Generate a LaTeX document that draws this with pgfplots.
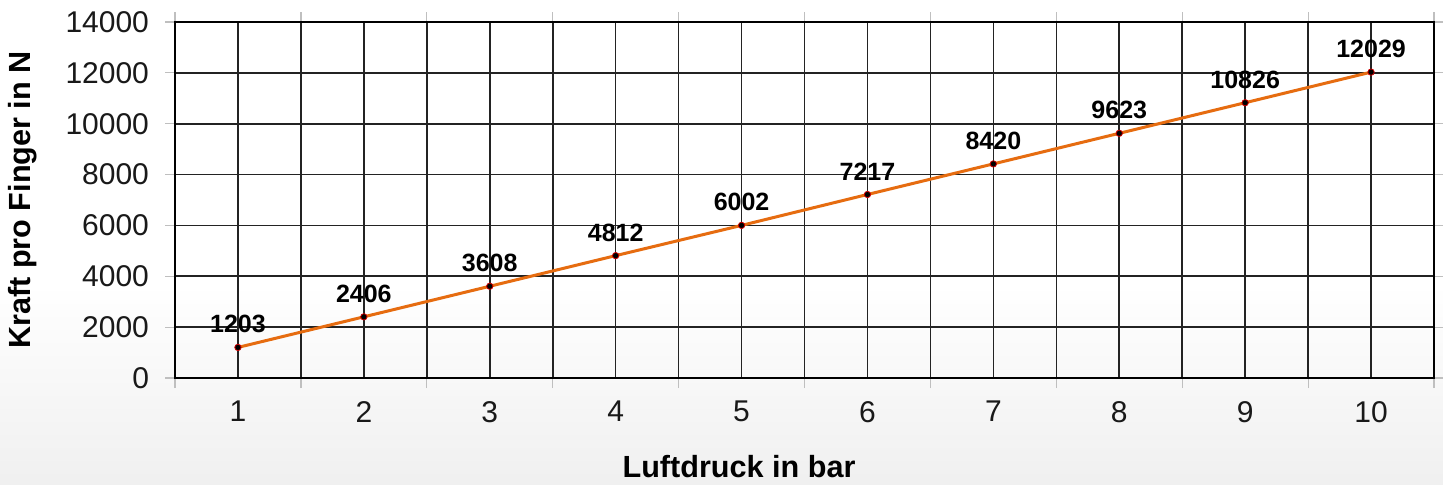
\documentclass[border=0pt]{standalone}
\usepackage{pgfplots}
\pgfplotsset{compat=1.18}
\usepackage{fontspec}
\setmainfont{Liberation Sans}
\definecolor{lineorange}{RGB}{230,108,16}
\definecolor{gridgray}{RGB}{35,35,35}
\begin{document}
\begin{tikzpicture}
\shade[bottom color=black!6, top color=white] (0,0) rectangle (721.5pt,100pt);
\fill[white] (0,100pt) rectangle (721.5pt,242pt);
\path[use as bounding box] (0,0) rectangle (721.5pt,242pt);
\begin{axis}[
  at={(87.5pt,53pt)}, anchor=south west,
  scale only axis, width=629.5pt, height=178pt,
  xmin=0.5, xmax=10.5, ymin=0, ymax=14000,
  xtick={1,...,10},
  minor xtick={0.5,1.5,...,10.5},
  ytick={0,2000,...,14000},
  xmajorgrids, xminorgrids, ymajorgrids,
  grid style={gridgray, line width=0.8pt},
  minor grid style={gridgray, line width=0.8pt},
  axis line style={black, line width=1.3pt},
  tick align=outside,
  major tick length=5pt, minor tick length=5pt,
  xtick style={draw=none},
  minor x tick style={draw=black!25, line width=0.6pt},
  ytick style={draw=black!25, line width=0.6pt},
  scaled y ticks=false,
  /pgf/number format/assume math mode=true,
  /pgf/number format/.cd, 1000 sep={}, /pgfplots/.cd,
  tick label style={font=\fontsize{15}{17}\selectfont, text=black!90},
  xticklabel style={yshift=-3pt},
  yticklabel style={xshift=-4.5pt},
  xlabel={Luftdruck in bar},
  ylabel={Kraft pro Finger in N},
  label style={font=\fontsize{15.3}{17}\selectfont\bfseries},
  xlabel style={at={(axis description cs:0.448,-0.25)}, anchor=center},
  ylabel style={at={(axis description cs:-0.1207,0.5)}, anchor=center},
  clip=false,
]
\addplot[lineorange, line width=1.5pt, mark=*, mark size=1.6pt,
  mark options={fill=black, draw=red!80!black, line width=0.4pt},
  nodes near coords,
  every node near coord/.append style={font=\fontsize{12.5}{14}\selectfont\bfseries, text=black, anchor=south, inner sep=0pt, yshift=7pt},
  point meta=explicit symbolic]
table[meta=lab] {
x y lab
1 1203 1203
2 2406 2406
3 3608 3608
4 4812 4812
5 6002 6002
6 7217 7217
7 8420 8420
8 9623 9623
9 10826 10826
10 12029 12029
};
\end{axis}
\end{tikzpicture}
\end{document}
